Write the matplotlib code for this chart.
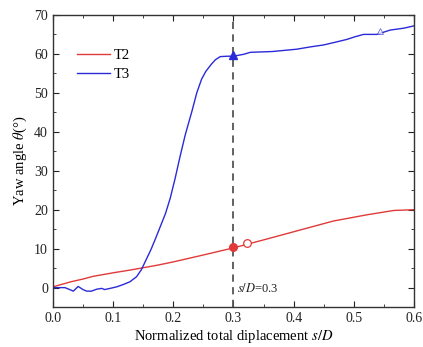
import matplotlib
matplotlib.use("Agg")
import matplotlib.pyplot as plt
from matplotlib.ticker import MultipleLocator

plt.rcParams['font.family'] = ['Liberation Serif', 'DejaVu Serif']
plt.rcParams['mathtext.fontset'] = 'stix'

# T2 (red)
t2_x = [0.0, 0.03, 0.05, 0.067, 0.1, 0.128, 0.15, 0.175, 0.2, 0.245, 0.3, 0.356, 0.411, 0.466, 0.522, 0.566, 0.6]
t2_y = [0.2, 1.5, 2.2, 2.9, 3.8, 4.5, 5.1, 5.8, 6.6, 8.2, 10.2, 12.5, 14.8, 17.1, 18.7, 19.8, 20.0]

# T3 (blue)
t3_x = [0.0, 0.02, 0.028, 0.034, 0.042, 0.05, 0.056, 0.064, 0.073, 0.081, 0.086, 0.095, 0.106,
        0.117, 0.128, 0.139, 0.147, 0.155, 0.163, 0.17, 0.178, 0.187, 0.195, 0.203, 0.211, 0.22, 0.231,
        0.239, 0.247, 0.254, 0.263, 0.27, 0.278, 0.29, 0.3, 0.317, 0.328, 0.364, 0.405, 0.428, 0.45,
        0.472, 0.488, 0.502, 0.516, 0.538, 0.552, 0.56, 0.583, 0.6]
t3_y = [0.0, 0.0, -0.5, -0.9, 0.3, -0.5, -0.9, -0.9, -0.4, -0.2, -0.5, -0.2, 0.2,
        0.8, 1.5, 2.8, 4.6, 7.2, 9.8, 12.4, 15.5, 19.0, 23.0, 28.0, 33.5, 39.3, 45.3,
        50.0, 53.5, 55.5, 57.3, 58.5, 59.3, 59.4, 59.4, 59.9, 60.4, 60.6, 61.2, 61.8, 62.3,
        63.1, 63.7, 64.4, 65.0, 65.0, 65.7, 66.1, 66.6, 67.2]

# markers
t2_filled = (0.3, 10.4)
t2_open = (0.322, 11.4)
t3_filled = (0.3, 59.6)
t3_open = (0.543, 65.8)

fig = plt.figure(figsize=(4.23, 3.47), dpi=100)
ax = fig.add_axes([0.125, 0.115, 0.854, 0.842])

red = '#e03a3a'
blue = '#2a2ad8'
ax.plot(t2_x, t2_y, color=red, lw=1.0, label='T2')
ax.plot(t3_x, t3_y, color=blue, lw=1.0, label='T3')

ax.axvline(0.3, color='#555555', lw=1.3, ls=(0, (4, 3)))

ax.plot(*t2_filled, marker='o', color=red, ms=5.5, mec=red)
ax.plot(*t2_open, marker='o', color='white', ms=5.5, mec=red, mew=0.9)
ax.plot(*t3_filled, marker='^', color=blue, ms=5.5, mec=blue)
ax.plot(*t3_open, marker='^', color='white', ms=5, mec=blue, mew=0.6, alpha=0.7)

ax.text(0.306, -0.3, r'$s/D$=0.3', fontsize=9, va='center', ha='left', color='#222222')

ax.set_xlim(0, 0.6)
ax.set_ylim(-5, 70)
ax.xaxis.set_major_locator(MultipleLocator(0.1))
ax.xaxis.set_minor_locator(MultipleLocator(0.05))
ax.yaxis.set_major_locator(MultipleLocator(10))
ax.yaxis.set_minor_locator(MultipleLocator(5))
ax.set_xticks([0, 0.1, 0.2, 0.3, 0.4, 0.5, 0.6])
ax.set_xticklabels(['0.0', '0.1', '0.2', '0.3', '0.4', '0.5', '0.6'])
ax.set_yticks([0, 10, 20, 30, 40, 50, 60, 70])
ax.set_yticklabels(['0', '10', '20', '30', '40', '50', '60', '70'])
ax.tick_params(which='both', direction='in', top=True, right=True, labelsize=10, colors='#222222')
ax.tick_params(which='major', length=4)
ax.tick_params(which='minor', length=2.5)
for s in ax.spines.values():
    s.set_color('#333333')
    s.set_linewidth(1.0)

ax.set_xlabel(r'Normalized total diplacement $s/D$', fontsize=10.5, labelpad=2)
ax.set_ylabel(r'Yaw angle $\theta$(°)', fontsize=10.5, labelpad=4)

ax.legend(loc='upper left', bbox_to_anchor=(0.03, 0.93), frameon=False, fontsize=10.5,
          handlelength=2.3, handletextpad=0.2, labelspacing=0.4)

fig.savefig('out.png', dpi=100)
